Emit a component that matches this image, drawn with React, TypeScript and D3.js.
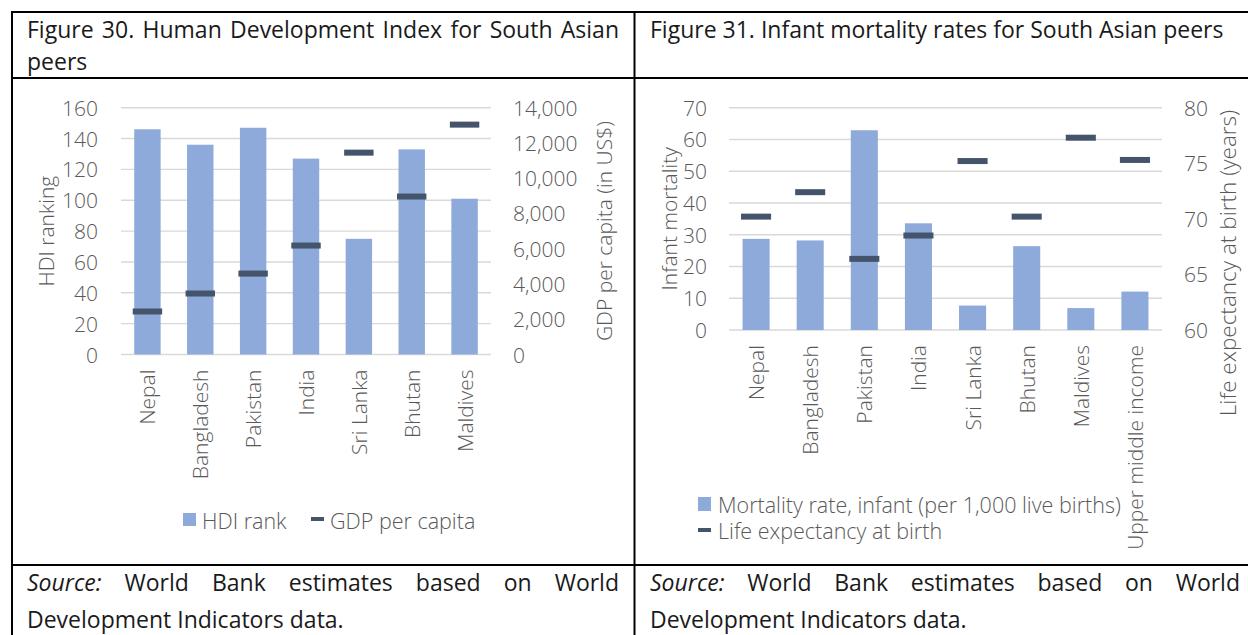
import React from 'react'
import * as d3 from 'd3'

// Figure 30: HDI rank vs GDP per capita
const hdiCountries = ['Nepal', 'Bangladesh', 'Pakistan', 'India', 'Sri Lanka', 'Bhutan', 'Maldives']
const hdiRank = [146, 136, 147, 127, 75, 133, 101]
const gdpPerCapita = [2440, 3460, 4590, 6180, 11450, 8960, 13040]
const hdiTicks = [0, 20, 40, 60, 80, 100, 120, 140, 160]
const gdpTicks = [0, 2000, 4000, 6000, 8000, 10000, 12000, 14000]

// Figure 31: infant mortality vs life expectancy
const imrCountries = ['Nepal', 'Bangladesh', 'Pakistan', 'India', 'Sri Lanka', 'Bhutan', 'Maldives', 'Upper middle income']
const infantMortality = [28.7, 28.2, 62.9, 33.6, 7.7, 26.4, 6.9, 12.1]
const lifeExpectancy = [70.2, 72.4, 66.4, 68.5, 75.2, 70.2, 77.3, 75.3]
const imrTicks = [0, 10, 20, 30, 40, 50, 60, 70]
const lifeTicks = [60, 65, 70, 75, 80]

const FONT = "'Open Sans', Lato, sans-serif"
const BAR = '#8EAADB'
const MARK = '#44546A'
const GREY = '#595959'
const GRID = '#D9D9D9'

let ctx: CanvasRenderingContext2D | null = null
const measure = (s: string, font: string) => {
  if (!ctx) ctx = document.createElement('canvas').getContext('2d')
  ctx!.font = font
  return ctx!.measureText(s).width
}

// spread words across a line like justified paragraph text
const justify = (words: { t: string; italic?: boolean }[], x0: number, x1: number, size: number, weight = 300) => {
  const w = words.map(d => measure(d.t, `${d.italic ? 'italic ' : ''}${weight} ${size}px ${FONT}`))
  const gap = (x1 - x0 - d3.sum(w)) / (words.length - 1)
  let x = x0
  return words.map((d, i) => {
    const out = { ...d, x }
    x += w[i] + gap
    return out
  })
}

const ComboChart = ({ cats, bars, marks, barTicks, markTicks, barMax, markDomain, x0, x1, yTop, yBot,
  leftTitle, rightTitle, leftLabelX, rightLabelX, leftTitleX, rightTitleX, rightTitleY, rightTitleSize,
  fmtBar, fmtMark }: any) => {
  const x = d3.scaleBand().domain(cats).range([x0, x1]).paddingInner(0.5).paddingOuter(0.25)
  const y = d3.scaleLinear().domain([0, barMax]).range([yBot, yTop])
  const y2 = d3.scaleLinear().domain(markDomain).range([yBot, yTop])
  const bw = x.bandwidth()
  const mid = (yTop + yBot) / 2
  return (
    <g fontFamily={FONT} fontWeight={300} fill={GREY} fontSize={21}>
      {barTicks.map((t: number) => (
        <g key={'g' + t}>
          <line x1={x0} x2={x1} y1={y(t)} y2={y(t)} stroke={GRID} strokeWidth={1.4} />
          <text x={leftLabelX} y={y(t)} textAnchor="end" dominantBaseline="central">{fmtBar(t)}</text>
        </g>
      ))}
      {markTicks.map((t: number) => (
        <text key={'r' + t} x={rightLabelX} y={y2(t)} dominantBaseline="central">{fmtMark(t)}</text>
      ))}
      {cats.map((c: string, i: number) => (
        <rect key={'b' + c} x={x(c)} y={y(bars[i])} width={bw} height={yBot - y(bars[i])} fill={BAR} />
      ))}
      {cats.map((c: string, i: number) => (
        <rect key={'m' + c} x={x(c)! - 1.5} y={y2(marks[i]) - 3} width={bw + 3} height={6} fill={MARK} />
      ))}
      {cats.map((c: string) => (
        <text key={'c' + c} transform={`translate(${x(c)! + bw / 2},${yBot + 15}) rotate(-90)`}
          textAnchor="end" dominantBaseline="central">{c}</text>
      ))}
      <text transform={`translate(${leftTitleX},${mid}) rotate(-90)`} textAnchor="middle"
        dominantBaseline="central">{leftTitle}</text>
      <text transform={`translate(${rightTitleX},${rightTitleY ?? mid}) rotate(-90)`} textAnchor="middle"
        dominantBaseline="central" fontSize={rightTitleSize ?? 21}>{rightTitle}</text>
    </g>
  )
}

const App = () => {
  const fmt = d3.format(',')
  const head1 = justify('Figure 30. Human Development Index for South Asian'.split(' ').map(t => ({ t })), 27, 619, 23, 400)
  const srcWords = [{ t: 'Source:', italic: true }, ...'World Bank estimates based on World'.split(' ').map(t => ({ t }))]
  const foot1 = justify(srcWords, 27, 619, 23, 400)
  const foot2 = justify(srcWords, 650, 1240, 23, 400)

  return (
    <svg width={1248} height={635} style={{ position: 'absolute', left: 0, top: 0, background: '#fff' }}>
      <rect width={1248} height={635} fill="#fff" />

      {/* table frame */}
      <g stroke="#000" strokeWidth={2}>
        <line x1={12} x2={1250} y1={12} y2={12} />
        <line x1={12} x2={1250} y1={78} y2={78} />
        <line x1={12} x2={1250} y1={565} y2={565} />
        <line x1={12} x2={12} y1={11} y2={640} />
        <line x1={634.5} x2={634.5} y1={11} y2={640} />
      </g>

      <g fontFamily={FONT} fontWeight={400} fontSize={23} fill="#1a1a1a">
        {head1.map(d => <text key={d.t} x={d.x} y={38}>{d.t}</text>)}
        <text x={27} y={70}>peers</text>
        <text x={650} y={38}>Figure 31. Infant mortality rates for South Asian peers</text>
      </g>

      <g fontFamily={FONT} fontWeight={400} fontSize={23} fill="#1a1a1a">
        {foot1.map(d => <text key={'a' + d.t + d.x} x={d.x} y={591} fontStyle={d.italic ? 'italic' : 'normal'}>{d.t}</text>)}
        <text x={27} y={628}>Development Indicators data.</text>
        {foot2.map(d => <text key={'b' + d.t + d.x} x={d.x} y={591} fontStyle={d.italic ? 'italic' : 'normal'}>{d.t}</text>)}
        <text x={650} y={628}>Development Indicators data.</text>
      </g>

      <ComboChart cats={hdiCountries} bars={hdiRank} marks={gdpPerCapita} barTicks={hdiTicks} markTicks={gdpTicks}
        barMax={160} markDomain={[0, 14000]} x0={121} x1={491} yTop={107.7} yBot={354.5}
        leftTitle="HDI ranking" rightTitle="GDP per capita (in US$)" leftLabelX={98} rightLabelX={513}
        leftTitleX={46} rightTitleX={604} fmtBar={(t: number) => String(t)} fmtMark={fmt} />

      <ComboChart cats={imrCountries} bars={infantMortality} marks={lifeExpectancy} barTicks={imrTicks} markTicks={lifeTicks}
        barMax={70} markDomain={[60, 80]} x0={729} x1={1162} yTop={107.7} yBot={330}
        leftTitle="Infant mortality" rightTitle="Life expectancy at birth (years)" leftLabelX={707} rightLabelX={1184}
        leftTitleX={669} rightTitleX={1227} rightTitleY={263} rightTitleSize={22.5}
        fmtBar={(t: number) => String(t)} fmtMark={(t: number) => String(t)} />

      {/* legends */}
      <g fontFamily={FONT} fontWeight={300} fontSize={21.5} fill={GREY}>
        <rect x={183} y={513} width={13} height={13} fill={BAR} />
        <text x={202} y={520} dominantBaseline="central">HDI rank</text>
        <rect x={311} y={517} width={13} height={4} fill={MARK} />
        <text x={330} y={520} dominantBaseline="central">GDP per capita</text>

        <rect x={698} y={497} width={13} height={14} fill={BAR} />
        <text x={718} y={504} dominantBaseline="central">Mortality rate, infant (per 1,000 live births)</text>
        <rect x={698} y={528} width={13} height={4} fill={MARK} />
        <text x={718} y={530} dominantBaseline="central">Life expectancy at birth</text>
      </g>
    </svg>
  )
}

export default App
